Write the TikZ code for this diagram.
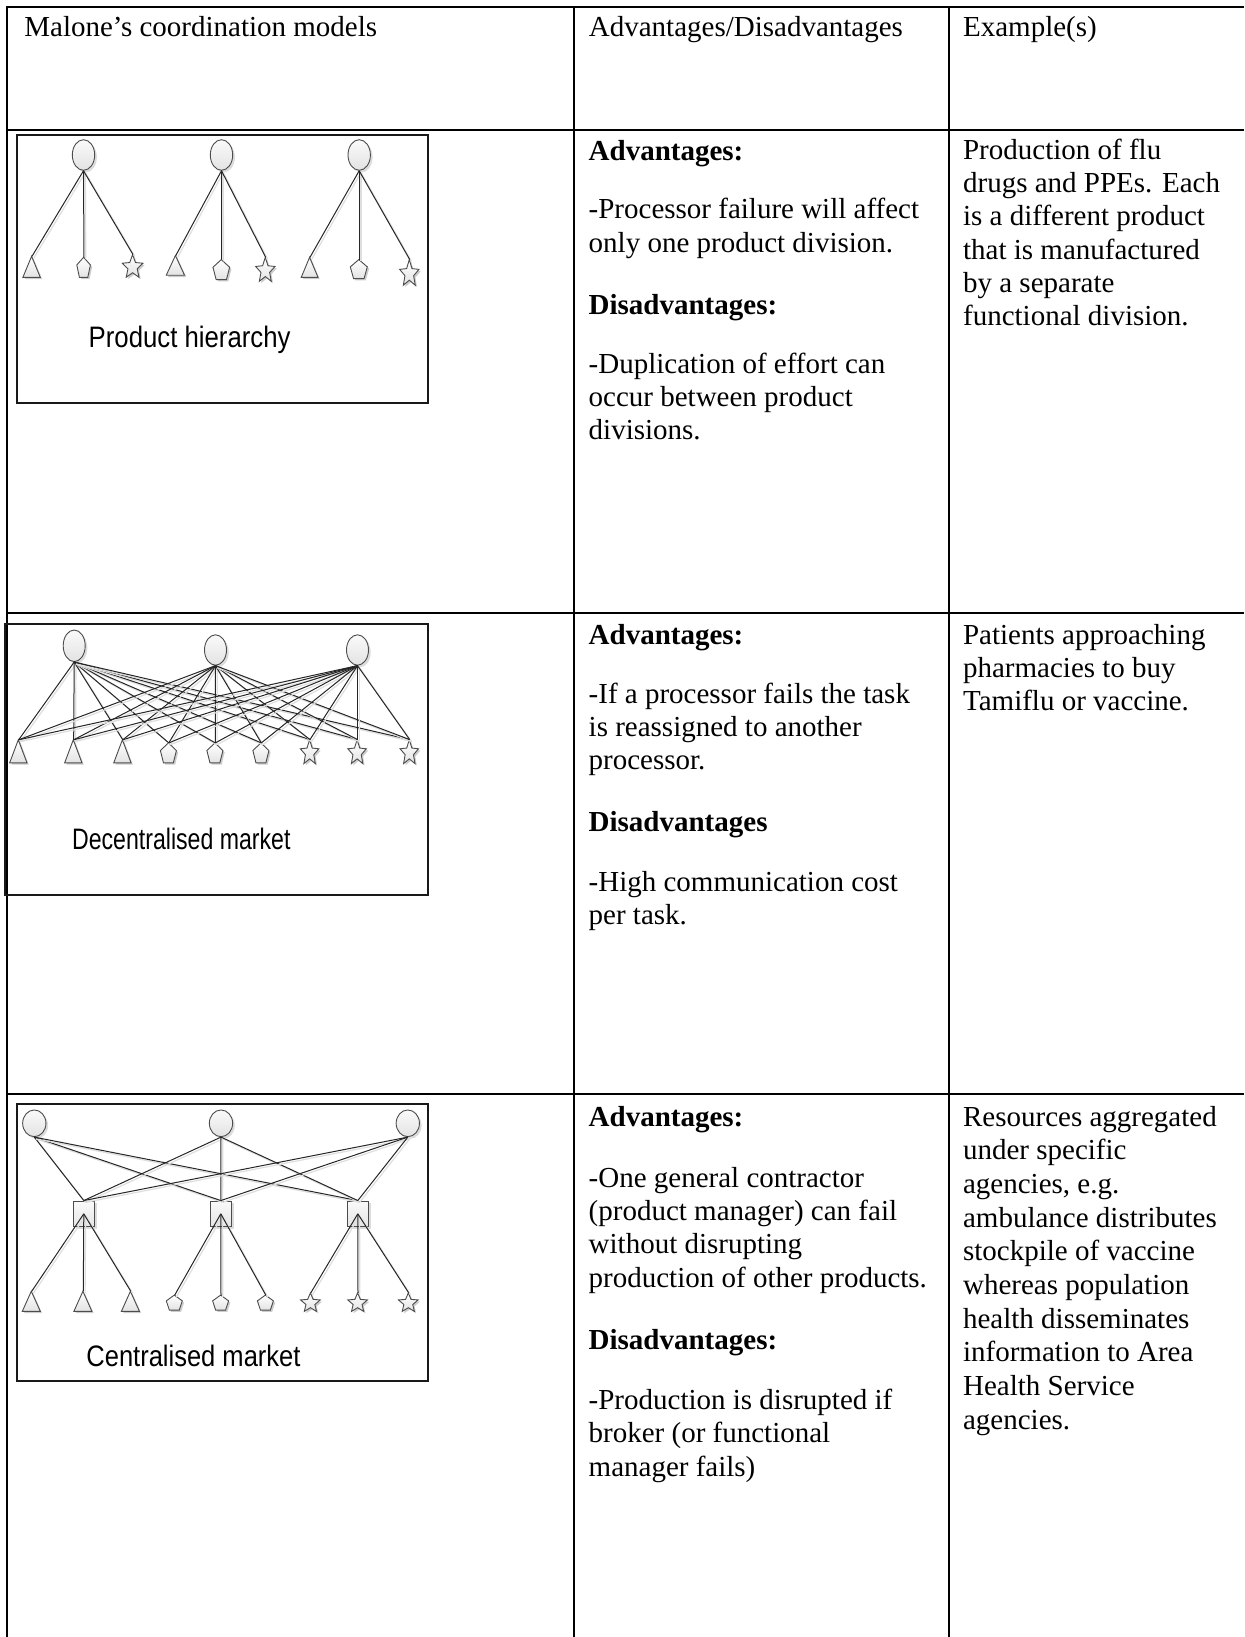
\documentclass[tikz,border=0pt]{standalone}
\usepackage{fontspec}
\setmainfont{Liberation Serif}
\newfontfamily\diagfont{Liberation Sans}
\usetikzlibrary{shapes.geometric,shadows}

\tikzset{
  tablerule/.style={line width=1.1pt, black},
  diagframe/.style={line width=0.85pt, black!90},
  txt/.style={anchor=base west, inner sep=0pt, font=\fontsize{14.5}{16}\selectfont},
  txtb/.style={anchor=base west, inner sep=0pt, font=\fontsize{14.5}{16}\selectfont\bfseries},
  lbl/.style={anchor=base west, inner sep=0pt, font=\diagfont\fontsize{14.8}{16}\selectfont},
  softshadow/.style={drop shadow={shadow xshift=1.1pt, shadow yshift=-1.1pt, fill=black!30, opacity=0.45}},
  proc/.style={ellipse, draw=black!70, line width=0.45pt, inner sep=0pt,
    top color=gray!4, bottom color=gray!22, softshadow},
  broker/.style={rectangle, draw=black!70, line width=0.45pt, inner sep=0pt,
    minimum width=10.5pt, minimum height=12.8pt, top color=gray!4, bottom color=gray!20, softshadow},
  slot/.style={inner sep=0pt, draw=none},
  shapeline/.style={draw=black!70, line width=0.45pt, line join=miter, top color=white, bottom color=gray!22},
  conn/.style={draw=black!85, line width=0.5pt,
    preaction={draw=black!13, line width=0.6pt, transform canvas={shift={(0.9pt,-0.9pt)}}}},
}

% a small node of width #5 and height #6 (pixels) centred at (#3,#4),
% outlined by the unit-square path #1
\newcommand\diagunit[6]{%
  \node[slot, minimum width=#5*0.5pt, minimum height=#6*0.5pt] (#2) at (#3,#4) {};
  \begin{scope}[shift={(#2.north west)}]
    \begin{scope}[shift={(1.8,1.8)}, xscale=#5, yscale=#6]
      \fill[black!20] #1;
    \end{scope}
    \begin{scope}[xscale=#5, yscale=#6]
      \draw[shapeline] #1;
    \end{scope}
  \end{scope}}
\newcommand\mktri[5]{\diagunit{(0,1) -- (0.5,0) -- (1,1) -- cycle}{#1}{#2}{#3}{#4}{#5}}
\newcommand\mkpent[5]{\diagunit{(0.5,0) -- (1,0.382) -- (0.809,1) -- (0.191,1) -- (0,0.382) -- cycle}{#1}{#2}{#3}{#4}{#5}}
\newcommand\mkstar[5]{\diagunit{(0.5,0) -- (0.639,0.352) -- (1,0.382) -- (0.725,0.630) -- (0.809,1) -- (0.5,0.802) -- (0.191,1) -- (0.275,0.630) -- (0,0.382) -- (0.361,0.352) -- cycle}{#1}{#2}{#3}{#4}{#5}}

% lines of a cell: #1 style, #2 name prefix, #3 x, #4 first baseline, #5 step, #6 lines
\newcommand\textlines[6]{%
  \foreach \tline [count=\k] in {#6}{%
    \node[#1] (#2-\k) at (#3,{#4+(\k-1)*#5}) {\tline};}}

\begin{document}
\begin{tikzpicture}[x=0.5pt, y=-0.5pt]
\useasboundingbox (0,0) rectangle (1244,1637);

% ---------- table rules ----------
\draw[tablerule] (1244,7.3) -- (7.3,7.3) -- (7.3,1637);
\draw[tablerule] (574.3,7.3) -- (574.3,1637);
\draw[tablerule] (949,7.3) -- (949,1637);
\draw[tablerule] (7.3,130) -- (1244,130);
\draw[tablerule] (7.3,613.3) -- (1244,613.3);
\draw[tablerule] (7.3,1094) -- (1244,1094);

% ---------- header ----------
\node[txt] (hd1) at (24,36.5) {Malone’s coordination models};
\node[txt] (hd2) at (588.5,36.5) {Advantages/Disadvantages};
\node[txt] (hd3) at (962.7,36.5) {Example(s)};

% ---------- row 1 text ----------
\node[txtb] (a1) at (588.3,160.6) {Advantages:};
\textlines{txt}{a1t}{588.3}{218.8}{33.3}{-Processor failure will affect, only one product division.}
\node[txtb] (b1) at (588.3,314.5) {Disadvantages:};
\textlines{txt}{b1t}{588.3}{373}{33.3}{-Duplication of effort can, occur between product, divisions.}
\textlines{txt}{e1}{962.7}{159.6}{33.2}{Production of flu, drugs and PPEs. Each, is a different product, that is manufactured, by a separate, functional division.}

% ---------- row 2 text ----------
\node[txtb] (a2) at (588.3,644.1) {Advantages:};
\textlines{txt}{a2t}{588.3}{703.3}{33.3}{-If a processor fails the task, is reassigned to another, processor.}
\node[txtb] (b2) at (588.3,831.5) {Disadvantages};
\textlines{txt}{b2t}{588.3}{891.6}{33.3}{-High communication cost, per task.}
\textlines{txt}{e2}{962.7}{644.1}{33.2}{Patients approaching, pharmacies to buy, Tamiflu or vaccine.}

% ---------- row 3 text ----------
\node[txtb] (a3) at (588.3,1126) {Advantages:};
\textlines{txt}{a3t}{588.3}{1187}{33.4}{-One general contractor, (product manager) can fail, without disrupting, production of other products.}
\node[txtb] (b3) at (588.3,1349.6) {Disadvantages:};
\textlines{txt}{b3t}{588.3}{1409.2}{33.4}{-Production is disrupted if, broker (or functional, manager fails)}
\textlines{txt}{e3}{962.7}{1126}{33.7}{Resources aggregated, under specific, {agencies, e.g.}, ambulance distributes, stockpile of vaccine, whereas population, health disseminates, information to Area, Health Service, agencies.}

% ---------- product hierarchy ----------
\draw[diagframe] (17,135) rectangle (428,403);
\node[proc, minimum width=11.2pt, minimum height=15.3pt] (h1) at (83.5,155) {};
\node[proc, minimum width=11.2pt, minimum height=15.3pt] (h2) at (221.5,155) {};
\node[proc, minimum width=11.2pt, minimum height=15.3pt] (h3) at (359.2,155) {};
\mktri{h1a}{32}{267.2}{17.4}{21}
\mkpent{h1b}{84}{267.7}{13.6}{20}
\mkstar{h1c}{133}{266.3}{20.6}{22.7}
\mktri{h2a}{175.8}{265.8}{18.3}{19.7}
\mkpent{h2b}{221.7}{270}{16.7}{20}
\mkstar{h2c}{265.7}{269.7}{19.3}{24}
\mktri{h3a}{310}{267.7}{16.7}{20}
\mkpent{h3b}{359.2}{269.5}{17}{19}
\mkstar{h3c}{409.7}{272.8}{19.3}{25.7}
\foreach \g in {1,2,3}{
  \foreach \c in {a,b,c}{
    \draw[conn] (h\g.south) -- (h\g\c.north);}}
\node[lbl] (lab1) at (88.3,347) {\scalebox{0.87}[1]{Product hierarchy}};

% ---------- decentralised market ----------
\draw[diagframe] (5,624) rectangle (428,895);
\node[proc, minimum width=11pt, minimum height=15.8pt] (m1) at (74.2,645.8) {};
\node[proc, minimum width=11pt, minimum height=15.2pt] (m2) at (215.5,650) {};
\node[proc, minimum width=11pt, minimum height=15.2pt] (m3) at (357.5,650) {};
\mktri{d1}{18.7}{751.7}{17.3}{23}
\mktri{d2}{73.7}{751.7}{17.3}{23}
\mktri{d3}{122.8}{751.7}{17.3}{23}
\mkpent{d4}{168.8}{753.3}{16}{20}
\mkpent{d5}{215.3}{753.3}{16}{20}
\mkpent{d6}{261.3}{753.3}{16}{20}
\mkstar{d7}{310}{752}{18.5}{24}
\mkstar{d8}{357.5}{752}{18.5}{24}
\mkstar{d9}{409.7}{752}{18.5}{24}
\foreach \g in {1,2,3}{
  \foreach \c in {1,...,9}{
    \draw[conn] (m\g.south) -- (d\c.north);}}
\node[lbl] (lab2) at (71.7,849.3) {\scalebox{0.781}[1]{Decentralised market}};

% ---------- centralised market ----------
\draw[diagframe] (17,1104) rectangle (428,1381);
\node[proc, minimum width=11.65pt, minimum height=13.35pt] (c1) at (34.3,1123.3) {};
\node[proc, minimum width=11.65pt, minimum height=13.35pt] (c2) at (221,1123.3) {};
\node[proc, minimum width=11.65pt, minimum height=13.35pt] (c3) at (407.8,1123.3) {};
\node[broker] (q1) at (83.8,1213.8) {};
\node[broker] (q2) at (220.8,1213.8) {};
\node[broker] (q3) at (357.8,1213.8) {};
\mktri{k1}{31.7}{1301.7}{18}{20}
\mktri{k2}{83.3}{1301.7}{18}{20}
\mktri{k3}{130.8}{1301.7}{18}{20}
\mkpent{k4}{174.7}{1303}{16}{15}
\mkpent{k5}{221}{1303}{16}{15}
\mkpent{k6}{265.8}{1303}{16}{15}
\mkstar{k7}{310.8}{1302.5}{19.7}{18.5}
\mkstar{k8}{358}{1302.5}{19.7}{18.5}
\mkstar{k9}{408.7}{1302.5}{19.7}{18.5}
\foreach \g in {1,2,3}{
  \foreach \s in {1,2,3}{
    \draw[conn] (c\g.south) -- (q\s.north);}}
\foreach \s/\a/\b/\c in {1/1/2/3, 2/4/5/6, 3/7/8/9}{
  \draw[conn] (q\s.center) -- (k\a.north);
  \draw[conn] (q\s.center) -- (k\b.north);
  \draw[conn] (q\s.center) -- (k\c.north);}
\node[lbl] (lab3) at (86,1366.7) {\scalebox{0.862}[1]{Centralised market}};

\end{tikzpicture}
\end{document}
